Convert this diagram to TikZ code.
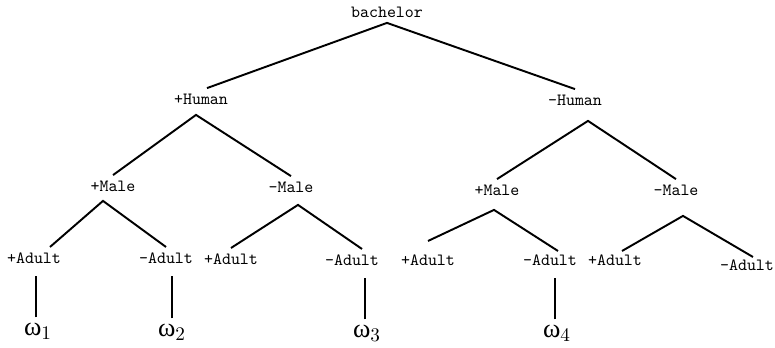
\documentclass[tikz,border=0pt]{standalone}
\usepackage{fontspec}
\newfontfamily\greekfont{Liberation Serif}
\tikzset{
  feat/.style={font=\ttfamily\fontsize{9.75}{11}\selectfont, inner xsep=1pt, inner ysep=3pt},
  leaf/.style={font=\fontsize{15}{17}\selectfont, anchor=north, inner sep=1pt},
  branch/.style={line width=1.1pt},
  stem/.style={line width=1.1pt, shorten <=2pt, shorten >=4pt}
}
\begin{document}
\begin{tikzpicture}[x=0.02cm, y=-0.02cm]
    \useasboundingbox (0,0) rectangle (775,348);

    \node[feat] (bach) at (387,12) {bachelor};
    \node[feat] (hp) at (201,99) {+Human};
    \node[feat] (hm) at (575,100) {-Human};

    \node[feat] (mp1) at (113,186) {+Male};
    \node[feat] (mm1) at (291,187) {-Male};
    \node[feat] (mp2) at (497,190) {+Male};
    \node[feat] (mm2) at (676,190) {-Male};

    \node[feat] (ap1) at (34,258) {+Adult};
    \node[feat] (am1) at (166,258) {-Adult};
    \node[feat] (ap2) at (231,259) {+Adult};
    \node[feat] (am2) at (352,260) {-Adult};
    \node[feat] (ap3) at (428,260) {+Adult};
    \node[feat] (am3) at (550,260) {-Adult};
    \node[feat] (ap4) at (615,260) {+Adult};
    \node[feat] (am4) at (747,265) {-Adult};

    \node[leaf] (w1) at (38,321) {$\mbox{\greekfont ω}_1$};
    \node[leaf] (w2) at (172,322) {$\mbox{\greekfont ω}_2$};
    \node[leaf] (w3) at (367,323) {$\mbox{\greekfont ω}_3$};
    \node[leaf] (w4) at (557,323) {$\mbox{\greekfont ω}_4$};

    \draw[branch] ([shift={(6,0)}]hp.north) -- (bach.south) -- (hm.north);

    \draw[branch] (mp1.north) -- ([shift={(-5,5)}]hp.south) -- (mm1.north);
    \draw[branch] (mp2.north) -- ([shift={(13,10)}]hm.south) -- (mm2.north);

    \draw[branch] ([shift={(16,0)}]ap1.north) -- ([shift={(-10,4)}]mp1.south) -- (am1.north);
    \draw[branch] (ap2.north) -- ([shift={(7,7)}]mm1.south) -- ([shift={(10,0)}]am2.north);
    \draw[branch] ([shift={(0,-8)}]ap3.north) -- ([shift={(-3,9)}]mp2.south) -- ([shift={(8,2)}]am3.north);
    \draw[branch] ([shift={(7,2)}]ap4.north) -- ([shift={(7,15)}]mm2.south) -- ([shift={(6,3)}]am4.north);

    \draw[stem] ([xshift=-1pt]w1.north) -- ([xshift=-1pt]w1.north |- ap1.south);
    \draw[stem] (w2.north) -- (w2.north |- am1.south);
    \draw[stem] ([xshift=-1pt]w3.north) -- ([xshift=-1pt]w3.north |- am2.south);
    \draw[stem] ([xshift=-1pt]w4.north) -- ([xshift=-1pt]w4.north |- am3.south);
\end{tikzpicture}
\end{document}
